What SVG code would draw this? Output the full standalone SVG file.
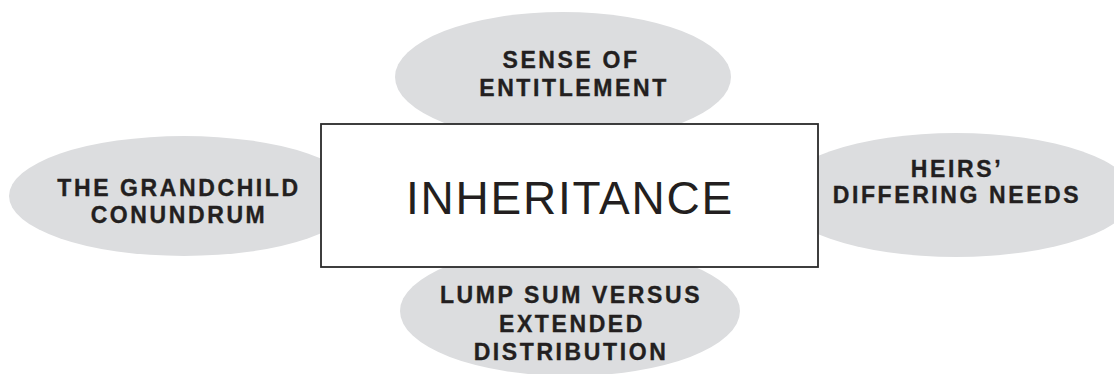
<svg xmlns="http://www.w3.org/2000/svg" width="1114" height="374" viewBox="0 0 1114 374">
  <style>
    .bubble { fill: #dcdddf; stroke: none; }
    .bubble-label { font-family: "Liberation Sans", Arial, Helvetica, sans-serif; font-weight: bold; font-size: 23px; letter-spacing: 2.6px; fill: #231f20; stroke: #231f20; stroke-width: 0.35; text-anchor: middle; }
    .hub { fill: #ffffff; stroke: #2a2a2a; stroke-width: 1.8; }
    .hub-label { font-family: "Liberation Sans", Arial, Helvetica, sans-serif; font-size: 46px; letter-spacing: 1.8px; fill: #231f20; text-anchor: middle; }
  </style>
  <rect width="1114" height="374" fill="#ffffff"/>

  <!-- surrounding topics -->
  <g id="sense-of-entitlement">
    <ellipse class="bubble" cx="563" cy="77" rx="168" ry="65"/>
    <text class="bubble-label" x="571" y="68">SENSE OF</text>
    <text class="bubble-label" x="574" y="96">ENTITLEMENT</text>
  </g>
  <g id="grandchild-conundrum">
    <ellipse class="bubble" cx="184" cy="196" rx="175" ry="60"/>
    <text class="bubble-label" x="179" y="196">THE GRANDCHILD</text>
    <text class="bubble-label" x="179" y="223">CONUNDRUM</text>
  </g>
  <g id="heirs-differing-needs">
    <ellipse class="bubble" cx="956" cy="195" rx="178" ry="62"/>
    <text class="bubble-label" x="957" y="177">HEIRS’</text>
    <text class="bubble-label" x="957" y="203">DIFFERING NEEDS</text>
  </g>
  <g id="lump-sum-vs-extended">
    <ellipse class="bubble" cx="570" cy="311" rx="170" ry="65"/>
    <text class="bubble-label" x="571" y="303">LUMP SUM VERSUS</text>
    <text class="bubble-label" x="572" y="332">EXTENDED</text>
    <text class="bubble-label" x="571" y="360">DISTRIBUTION</text>
  </g>

  <!-- central topic -->
  <g id="inheritance">
    <rect class="hub" x="321" y="124" width="497" height="143"/>
    <text class="hub-label" x="570" y="213.5">INHERITANCE</text>
  </g>
</svg>
